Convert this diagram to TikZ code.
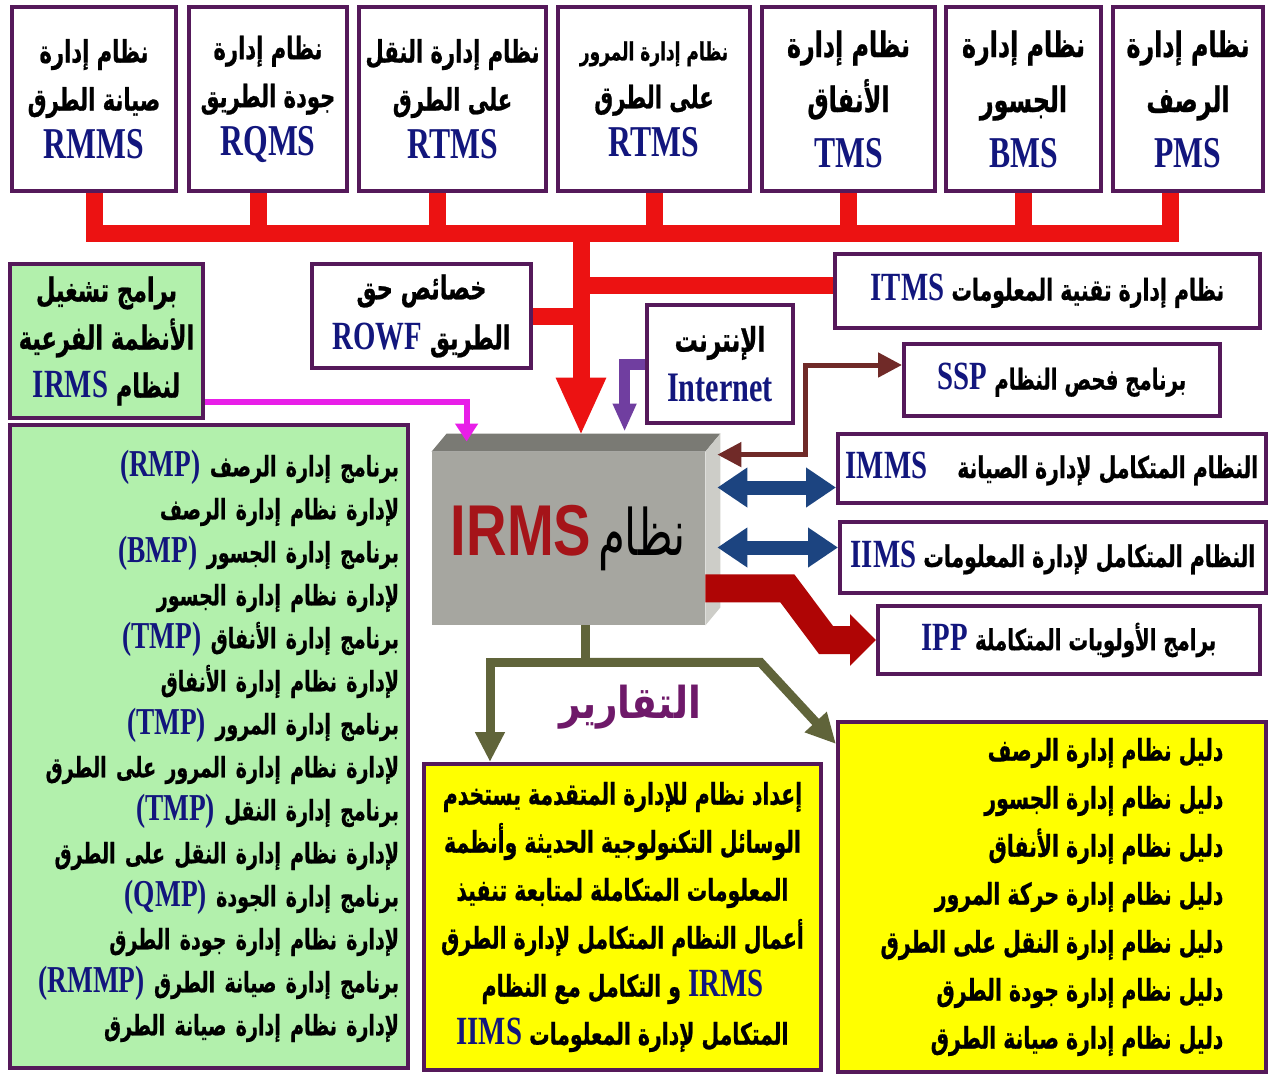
\documentclass[tikz,border=0pt]{standalone}
\usepackage{fontspec}
\usetikzlibrary{arrows.meta,calc}
\TeXXeTstate=1
\newfontfamily\arab[Script=Arabic,FakeStretch=0.68,BoldFeatures={FakeBold=0.7}]{DejaVu Sans}
\newfontfamily\arabwide[Script=Arabic,FakeStretch=0.85]{DejaVu Sans}
% the Latin faces carry their colour themselves, so nothing breaks inside right-to-left lines
\newfontfamily\latn[FakeStretch=0.72,Color=12167D]{Liberation Serif}
\newfontfamily\narrowsans[FakeStretch=0.78,Color=A51419]{Liberation Sans}
\newcommand\fsz[2]{\fontsize{#1}{#2}\selectfont}
\newcommand\arline[1]{\beginR#1\endR}
\newcommand\ltn[2][22]{{\latn\bfseries\fontsize{#1}{#1}\selectfont#2}}

\definecolor{boxc}{RGB}{85,25,90}
\definecolor{busred}{RGB}{236,18,18}
\definecolor{greenfill}{RGB}{178,240,172}
\definecolor{yell}{RGB}{255,255,0}
\definecolor{gfront}{RGB}{166,166,160}
\definecolor{gtop}{RGB}{122,122,116}
\definecolor{gside}{RGB}{205,205,200}
\definecolor{bluearr}{RGB}{28,68,128}
\definecolor{brownarr}{RGB}{112,42,40}
\definecolor{magarr}{RGB}{232,30,232}
\definecolor{netpurple}{RGB}{112,62,160}
\definecolor{olivearr}{RGB}{96,100,58}
\definecolor{ippred}{RGB}{175,5,5}
\definecolor{reportc}{RGB}{110,25,105}

\tikzset{
  panel/.style={draw=boxc, line width=2pt, fill=white, inner sep=0pt,
    align=center, font=\arab\bfseries\fsz{15.5}{24}},
  greenpanel/.style={panel, fill=greenfill},
  yellowpanel/.style={panel, fill=yell},
  bus/.style={draw=busred, line width=8.5pt},
  twoway/.style={draw=bluearr, line width=7pt,
    {Triangle[length=15pt,width=19pt]}-{Triangle[length=15pt,width=19pt]}},
  checkline/.style={draw=brownarr, line width=2.5pt,
    {Triangle[length=12pt,width=12pt]}-{Triangle[length=12pt,width=12pt]}},
  feedline/.style={draw=magarr, line width=3pt, -{Triangle[length=9pt,width=11pt]}},
  netline/.style={draw=netpurple, line width=5.5pt, -{Triangle[length=14pt,width=11pt]}},
  reportline/.style={draw=olivearr, line width=4.5pt, -{Triangle[length=15pt,width=14pt]}},
  priorityline/.style={draw=ippred, line width=14pt, -{Triangle[length=13pt,width=25pt]}},
  bigtop/.style={font=\arab\bfseries\fsz{17.5}{27.5}},
}

\begin{document}
\begin{tikzpicture}[x=0.5pt,y=-0.5pt]
\useasboundingbox[fill=white] (0,0) rectangle (1271,1077);

% subsystem boxes along the top
\node[panel, minimum width=82pt, minimum height=92pt] (rmms) at (94,99)
  {\arline{نظام إدارة}\\\arline{صيانة الطرق}\\\ltn{RMMS}};
\node[panel, minimum width=79pt, minimum height=92pt] (rqms) at (268,99)
  {\arline{نظام إدارة}\\\arline{جودة الطريق}\\\ltn{RQMS}};
\node[panel, minimum width=93.5pt, minimum height=92pt] (rtmsA) at (452.5,99)
  {\arline{نظام إدارة النقل}\\\arline{على الطرق}\\\ltn{RTMS}};
\node[panel, minimum width=96pt, minimum height=92pt] (rtmsB) at (654,99)
  {{\fsz{12.5}{12.5}\arline{نظام إدارة المرور}}\\\arline{على الطرق}\\\ltn{RTMS}};
\node[panel, bigtop, minimum width=86.5pt, minimum height=92pt] (tms) at (848.5,99)
  {\arline{نظام إدارة}\\\arline{الأنفاق}\\\ltn{TMS}};
\node[panel, bigtop, minimum width=77.5pt, minimum height=92pt] (bms) at (1023.5,99)
  {\arline{نظام إدارة}\\\arline{الجسور}\\\ltn{BMS}};
\node[panel, bigtop, minimum width=75pt, minimum height=92pt] (pms) at (1188,99)
  {\arline{نظام إدارة}\\\arline{الرصف}\\\ltn{PMS}};

% middle row
\node[greenpanel, minimum width=96.5pt, minimum height=77pt, font=\arab\bfseries\fsz{16.5}{24}] (subsys) at (106.5,341)
  {\arline{برامج تشغيل}\\\arline{الأنظمة الفرعية}\\\arline{لنظام \ltn[20]{IRMS}}};
\node[panel, minimum width=109.5pt, minimum height=52pt, font=\arab\bfseries\fsz{16.5}{25}] (rowf) at (421.5,316)
  {\arline{خصائص حق}\\\arline{الطريق \ltn[20]{ROWF}}};
\node[panel, minimum width=212.5pt, minimum height=37pt, font=\arab\bfseries\fsz{15}{24}] (itms) at (1047.5,291)
  {\arline{نظام إدارة تقنية المعلومات \ltn[20]{ITMS}}};
\node[panel, minimum width=73pt, minimum height=59pt, font=\arab\bfseries\fsz{17}{25}] (internet) at (720,364)
  {\arline{الإنترنت}\\\ltn[21]{Internet}};
\node[panel, minimum width=158pt, minimum height=36pt, font=\arab\bfseries\fsz{14.5}{24}] (ssp) at (1062,380)
  {\arline{برنامج فحص النظام \ltn[20]{SSP}}};
\node[panel, minimum width=214pt, minimum height=34.5pt, font=\arab\bfseries\fsz{15}{24}] (imms) at (1052,468.5)
  {\arline{النظام المتكامل لإدارة الصيانة\quad\ltn[20]{IMMS}}};
\node[panel, minimum width=213pt, minimum height=35.5pt, font=\arab\bfseries\fsz{15}{24}] (iims) at (1053,557.5)
  {\arline{النظام المتكامل لإدارة المعلومات \ltn[20]{IIMS}}};
\node[panel, minimum width=191pt, minimum height=34pt, font=\arab\bfseries\fsz{14.5}{24}] (ipp) at (1069,640)
  {\arline{برامج الأولويات المتكاملة \ltn[20]{IPP}}};

% the central IRMS block
\node[fill=gfront, minimum width=136.5pt, minimum height=86.5pt, inner sep=0pt] (irms) at (568.5,538.5)
  {\arline{{\arab\mdseries\fsz{32}{32}نظام} {\narrowsans\bfseries\fsz{36}{36}IRMS}}};
\fill[gtop] (irms.north west) -- ++(15,-18) -- ($(irms.north east)+(15,-18)$) -- (irms.north east) -- cycle;
\fill[gside] (irms.north east) -- ++(15,-18) -- ($(irms.south east)+(15,-18)$) -- (irms.south east) -- cycle;

% program list, reports and guides
\node[greenpanel, minimum width=199pt, minimum height=321.5pt, text width=190pt, align=right,
      font=\arab\bfseries\fsz{14}{21.5}] (programs) at (209,746)
  {\arline{برنامج إدارة الرصف \ltn[19]{(RMP)}}\\
   \arline{لإدارة نظام إدارة الرصف}\\
   \arline{برنامج إدارة الجسور \ltn[19]{(BMP)}}\\
   \arline{لإدارة نظام إدارة الجسور}\\
   \arline{برنامج إدارة الأنفاق \ltn[19]{(TMP)}}\\
   \arline{لإدارة نظام إدارة الأنفاق}\\
   \arline{برنامج إدارة المرور \ltn[19]{(TMP)}}\\
   \arline{لإدارة نظام إدارة المرور على الطرق}\\
   \arline{برنامج إدارة النقل \ltn[19]{(TMP)}}\\
   \arline{لإدارة نظام إدارة النقل على الطرق}\\
   \arline{برنامج إدارة الجودة \ltn[19]{(QMP)}}\\
   \arline{لإدارة نظام إدارة جودة الطرق}\\
   \arline{برنامج إدارة صيانة الطرق \ltn[19]{(RMMP)}}\\
   \arline{لإدارة نظام إدارة صيانة الطرق}};
\node[yellowpanel, minimum width=198.5pt, minimum height=153pt, font=\arab\bfseries\fsz{15}{24}] (plan) at (622.5,917)
  {\arline{إعداد نظام للإدارة المتقدمة يستخدم}\\
   \arline{الوسائل التكنولوجية الحديثة وأنظمة}\\
   \arline{المعلومات المتكاملة لمتابعة تنفيذ}\\
   \arline{أعمال النظام المتكامل لإدارة الطرق}\\
   \arline{\ltn[20]{IRMS} و التكامل مع النظام}\\
   \arline{المتكامل لإدارة المعلومات \ltn[20]{IIMS}}};
\node[yellowpanel, minimum width=214pt, minimum height=175pt, align=right, font=\arab\bfseries\fsz{15}{24}] (guides) at (1052,897)
  {\arline{دليل نظام إدارة الرصف}\\
   \arline{دليل نظام إدارة الجسور}\\
   \arline{دليل نظام إدارة الأنفاق}\\
   \arline{دليل نظام إدارة حركة المرور}\\
   \arline{دليل نظام إدارة النقل على الطرق}\\
   \arline{دليل نظام إدارة جودة الطرق}\\
   \arline{دليل نظام إدارة صيانة الطرق}};
\node[font=\arabwide\bfseries\fsz{22}{22}, text=reportc] (reports) at (630,707) {\arline{التقارير}};

% red bus collecting the subsystems
\coordinate (busy) at (0,233);
\coordinate (trunk) at (581,233);
\coordinate (rqmsstub) at ($(rqms.south)+(-10,0)$);
\coordinate (rtmsAstub) at ($(rtmsA.south)+(-15,0)$);
\coordinate (pmsstub) at ($(pms.south)+(-18,0)$);
\coordinate (irmstop) at ($(irms.north)+(0,-16)$);
\draw[bus] (rmms.south) -- (rmms.south |- busy) -- (pmsstub |- busy) -- (pmsstub);
\foreach \s in {rqmsstub, rtmsAstub, rtmsB.south, tms.south, bms.south}
  \draw[bus] (\s) -- (\s |- busy);
\draw[bus] (rowf.east) -- (rowf.east -| trunk);
\coordinate (itmsjoin) at ($(itms.west)+(0,-6)$);
\draw[bus] (itmsjoin) -- (itmsjoin -| trunk);
\draw[bus, -{Triangle[length=29pt,width=23pt]}] (trunk) -- (trunk |- irmstop);

% links around the IRMS block
\draw[netline] (internet.west) -| ($(irms.north west)+(193,-20)$);
\draw[feedline] ($(subsys.south east)+(0,-18)$) -| ($(irms.north west)+(35,-10)$);
\draw[checkline] ($(ssp.west)+(0,-15)$) -- ++(-97,0) |- ($(irms.north east)+(12,3)$);
\coordinate (irmsside) at ($(irms.east)+(12,0)$);
\coordinate (immsend) at ($(imms.west)+(0,19)$);
\coordinate (iimsend) at ($(iims.west)+(0,-10)$);
\draw[twoway] (irmsside |- immsend) -- (immsend);
\draw[twoway] (irmsside |- iimsend) -- (iimsend);
\draw[priorityline] ($(irms.south east)+(0,-37)$) -- ++(82,0) -- ($(ipp.west)+(-50,0)$) -- (ipp.west);

% report outputs
\coordinate (rj) at ($(irms.south)+(17,37)$);
\draw[draw=olivearr, line width=4.5pt] ($(irms.south)+(17,0)$) -- (rj);
\draw[reportline] (rj) -| ($(plan.north west)+(68,0)$);
\draw[reportline] (rj) -- ++(175,0) -- ($(guides.north west)+(0,24)$);
\end{tikzpicture}
\end{document}
